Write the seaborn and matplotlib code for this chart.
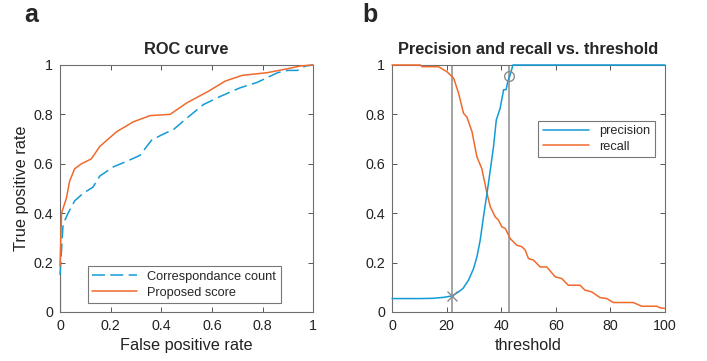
import numpy as np
import pandas as pd
import matplotlib
matplotlib.use("Agg")
import matplotlib.pyplot as plt
import seaborn as sns

# ROC curve data
fpr_count = [0, 0, 0.012, 0.032, 0.058, 0.091, 0.13, 0.157, 0.21, 0.257, 0.316, 0.362, 0.40, 0.45,
             0.50, 0.567, 0.634, 0.71, 0.78, 0.86, 0.90, 0.938, 0.97, 1.0]
tpr_count = [0, 0.30, 0.355, 0.40, 0.45, 0.48, 0.505, 0.55, 0.587, 0.607, 0.634, 0.696, 0.716, 0.74,
             0.784, 0.84, 0.873, 0.907, 0.93, 0.969, 0.978, 0.978, 0.996, 1.0]
fpr_score = [0, 0, 0.006, 0.025, 0.038, 0.058, 0.085, 0.124, 0.157, 0.224, 0.29, 0.356, 0.435, 0.50,
             0.587, 0.653, 0.72, 0.82, 0.90, 0.95, 1.0]
tpr_score = [0, 0.37, 0.40, 0.46, 0.53, 0.58, 0.60, 0.62, 0.67, 0.73, 0.77, 0.795, 0.80, 0.846,
             0.894, 0.935, 0.958, 0.969, 0.985, 0.996, 1.0]

# precision / recall vs threshold
thr_prec = [0, 10, 15, 19, 22, 24, 26, 28, 29.9, 31.1, 32.3, 33.5, 34.8, 36, 37.2, 38.2, 39.6,
            40.9, 41.8, 42.4, 43.3, 44.3, 60, 80, 100]
precision = [0.054, 0.054, 0.055, 0.059, 0.065, 0.078, 0.095, 0.128, 0.176, 0.223, 0.29, 0.385,
             0.48, 0.574, 0.67, 0.777, 0.824, 0.90, 0.90, 0.932, 0.96, 1.0, 1.0, 1.0, 1.0]
thr_rec = [0, 10.4, 11, 17, 20.1, 22.6, 24.4, 26.2, 27.4, 29.3, 31.1, 32.9, 34.8, 36, 37.8, 39,
           40.2, 41.5, 43.3, 45.7, 47.6, 48.8, 50, 51.8, 54.3, 56.7, 59.8, 62.2, 64.6, 68.9, 70.7,
           73.2, 76.2, 78.7, 81.1, 88.4, 91.5, 97, 98.4, 100]
recall = [1.0, 1.0, 0.993, 0.993, 0.973, 0.946, 0.885, 0.804, 0.79, 0.73, 0.628, 0.58, 0.48, 0.426,
          0.385, 0.372, 0.345, 0.338, 0.297, 0.27, 0.264, 0.25, 0.216, 0.21, 0.182, 0.182, 0.142,
          0.135, 0.108, 0.108, 0.088, 0.081, 0.058, 0.054, 0.038, 0.038, 0.023, 0.023, 0.016, 0.014]

# chosen thresholds
thr_low, thr_high = 21.8, 42.9
mark_low, mark_high = 0.065, 0.955

BLUE = "#129bd6"
ORANGE = "#ef6a2c"
GRAY = "#8c8c8c"

sns.set_style("ticks")
plt.rcParams["font.family"] = ["Liberation Sans", "DejaVu Sans"]

fig = plt.figure(figsize=(7.07, 3.61), dpi=100)
ax1 = fig.add_axes([0.0849, 0.136, 0.358, 0.684])
ax2 = fig.add_axes([0.5545, 0.136, 0.386, 0.684])

roc_count = pd.DataFrame({"x": fpr_count, "y": tpr_count})
roc_score = pd.DataFrame({"x": fpr_score, "y": tpr_score})
sns.lineplot(data=roc_count, x="x", y="y", ax=ax1, color=BLUE, lw=1.1, sort=False,
             linestyle=(0, (8.5, 3.5)), label="Correspondance count", clip_on=False, zorder=5)
sns.lineplot(data=roc_score, x="x", y="y", ax=ax1, color=ORANGE, lw=1.1, sort=False,
             label="Proposed score", clip_on=False, zorder=5)

pr = pd.DataFrame({"t": thr_prec, "v": precision})
rc = pd.DataFrame({"t": thr_rec, "v": recall})
sns.lineplot(data=pr, x="t", y="v", ax=ax2, color=BLUE, lw=1.1, sort=False, label="precision",
             clip_on=False, zorder=5)
sns.lineplot(data=rc, x="t", y="v", ax=ax2, color=ORANGE, lw=1.1, sort=False, label="recall",
             clip_on=False, zorder=4)
ax2.axvline(thr_low, color=GRAY, lw=1.1, zorder=1)
ax2.axvline(thr_high, color=GRAY, lw=1.1, zorder=1)
ax2.plot([thr_low], [mark_low], marker="x", ms=7, mew=1.0, color=GRAY, ls="none", zorder=6)
ax2.plot([thr_high], [mark_high], marker="o", ms=7, mew=1.0, mfc="none", mec=GRAY, ls="none",
         zorder=6)

for ax, xmax in [(ax1, 1), (ax2, 100)]:
    ax.set_xlim(0, xmax)
    ax.set_ylim(0, 1)
    ax.set_yticks([0, 0.2, 0.4, 0.6, 0.8, 1])
    ax.set_yticklabels(["0", "0.2", "0.4", "0.6", "0.8", "1"])
    ax.tick_params(direction="in", top=True, right=True, labelsize=10.3, length=3.5,
                   width=0.7, colors="#555555", labelcolor="#222222", pad=5)
    for s in ax.spines.values():
        s.set_color("#6e6e6e")
        s.set_linewidth(0.8)
    ax.set_ylabel("")

ax1.set_xticks([0, 0.2, 0.4, 0.6, 0.8, 1])
ax1.set_xticklabels(["0", "0.2", "0.4", "0.6", "0.8", "1"])
ax2.set_xticks([0, 20, 40, 60, 80, 100])

ax1.set_xlabel("False positive rate", fontsize=11.7, color="#222222", labelpad=4)
ax1.set_ylabel("True positive rate", fontsize=11.7, color="#222222", labelpad=3)
ax2.set_xlabel("threshold", fontsize=11.7, color="#222222", labelpad=4)
ax1.set_title("ROC curve", fontsize=11.8, fontweight="bold", pad=8)
ax2.set_title("Precision and recall vs. threshold", fontsize=11.8, fontweight="bold", pad=8)

leg1 = ax1.legend(loc="lower left", bbox_to_anchor=(0.11, 0.035), fontsize=9.2, frameon=True,
                  fancybox=False, edgecolor="#555555", handlelength=3.5, borderpad=0.35,
                  labelspacing=0.3, borderaxespad=0)
leg1.get_frame().set_linewidth(0.8)
leg2 = ax2.legend(loc="upper right", bbox_to_anchor=(0.962, 0.775), fontsize=9.2, frameon=True,
                  fancybox=False, edgecolor="#555555", handlelength=3.6, borderpad=0.35,
                  labelspacing=0.3, borderaxespad=0)
leg2.get_frame().set_linewidth(0.8)

fig.text(0.035, 0.938, "a", fontsize=18, fontweight="bold")
fig.text(0.512, 0.938, "b", fontsize=18, fontweight="bold")

fig.savefig("out.png", dpi=100, facecolor="white")
